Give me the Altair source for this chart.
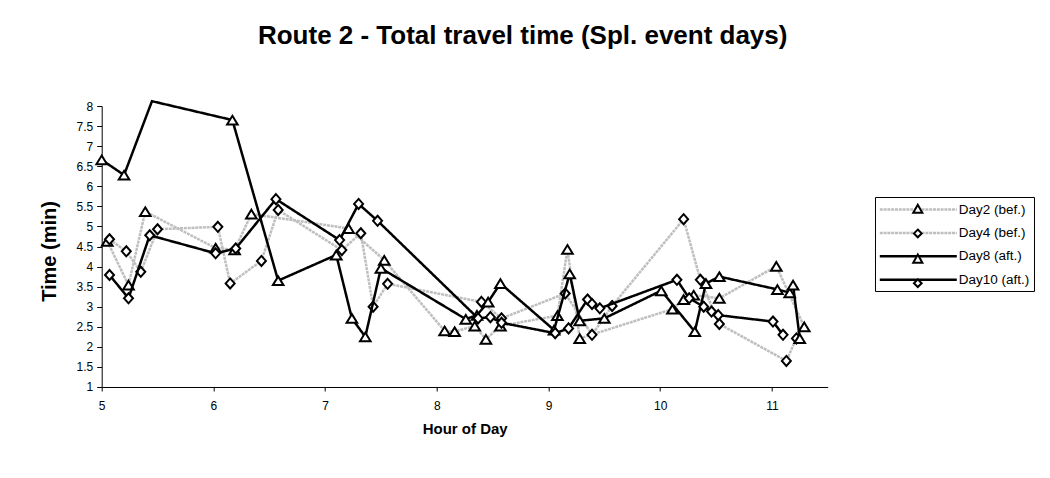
import altair as alt
import pandas as pd

# ---------------- data ----------------
SERIES = ["Day2 (bef.)", "Day4 (bef.)", "Day8 (aft.)", "Day10 (aft.)"]

day2_hour = [5.05, 5.24, 5.39, 6.02, 6.19, 6.34, 7.21, 7.53, 8.07, 8.16, 8.34, 8.44,
             8.57, 9.08, 9.17, 9.28, 10.11, 10.21, 10.30, 10.53, 11.04, 11.29]
day2_time = [4.63, 3.54, 5.37, 4.46, 4.42, 5.31, 4.95, 4.16, 2.40, 2.38, 2.52, 2.19,
             2.52, 2.78, 4.43, 2.21, 2.94, 3.18, 3.29, 3.21, 4.01, 2.50]

day4_hour = [5.07, 5.22, 5.35, 5.50, 6.04, 6.15, 6.43, 6.58, 7.15, 7.32, 7.43, 7.56,
             8.40, 8.58, 9.15, 9.39, 9.57, 10.21, 10.36, 10.53, 11.13, 11.22]
day4_time = [4.68, 4.38, 3.87, 4.93, 4.99, 3.58, 4.14, 5.41, 4.41, 4.83, 3.00, 3.57,
             3.12, 2.71, 3.33, 2.30, 3.02, 5.18, 3.67, 2.57, 1.65, 2.21]

day8_hour = [5.00, 5.20, 5.45, 6.17, 6.58, 7.10, 7.24, 7.36, 7.50, 8.26, 8.36, 8.46,
             8.57, 9.05, 9.19, 9.28, 9.50, 10.01, 10.31, 10.41, 10.53, 11.05, 11.16,
             11.19, 11.25]
day8_time = [6.66, 6.28, 8.12, 7.65, 3.65, 4.29, 2.71, 2.25, 3.96, 2.69, 2.79, 3.12,
             3.58, 2.42, 3.82, 2.65, 2.71, 3.40, 2.38, 3.58, 3.75, 3.43, 3.35,
             3.54, 2.21]

day10_hour = [5.07, 5.24, 5.43, 6.02, 6.20, 6.56, 7.13, 7.30, 7.47, 8.37, 8.48, 8.58,
              9.06, 9.18, 9.35, 9.39, 9.46, 10.15, 10.26, 10.39, 10.46, 10.52, 11.01,
              11.10]
day10_time = [3.79, 3.21, 4.78, 4.33, 4.45, 5.68, 4.66, 5.56, 5.14, 2.71, 2.74, 2.60,
              2.34, 2.46, 3.18, 3.07, 2.96, 3.67, 3.21, 3.00, 2.88, 2.79, 2.63,
              2.30]

x_ticks = [5, 6, 7, 8, 9, 10, 11]
y_ticks = [1, 1.5, 2, 2.5, 3, 3.5, 4, 4.5, 5, 5.5, 6, 6.5, 7, 7.5, 8]

TITLE = "Route 2 - Total travel time (Spl. event days)"
X_TITLE = "Hour of Day"
Y_TITLE = "Time (min)"

# ---------------- table ----------------
rows = []
for name, hours, times in [
    (SERIES[0], day2_hour, day2_time),
    (SERIES[1], day4_hour, day4_time),
    (SERIES[2], day8_hour, day8_time),
    (SERIES[3], day10_hour, day10_time),
]:
    for i, (h, t) in enumerate(zip(hours, times)):
        rows.append({"series": name, "hour": h, "time": t, "idx": i})
df = pd.DataFrame(rows)

# ---------------- styles ----------------
FONT = "Liberation Sans"
GRAY = "#bfbfbf"
BLACK = "#000000"
TRI = "M0,-0.8L1,0.85L-1,0.85Z"
DIA = "M0,-0.95L0.85,0L0,0.95L-0.85,0Z"
TRI_LEG = "M0,-0.6L0.65,0.55L-0.65,0.55Z"
DIA_LEG = "M0,-0.55L0.55,0L0,0.55L-0.55,0Z"
MARKERS = {SERIES[0]: TRI, SERIES[1]: DIA, SERIES[2]: TRI, SERIES[3]: DIA}

PLOT_W = 726
PLOT_H = 281

x_enc = alt.X("hour:Q",
              scale=alt.Scale(domain=[5, 11.5], nice=False, zero=False),
              axis=alt.Axis(values=x_ticks, title=X_TITLE, grid=False,
                            domainColor=BLACK, tickColor=BLACK, tickSize=4,
                            labelFont=FONT, labelFontSize=12, labelColor=BLACK,
                            labelPadding=10, labelFlush=False,
                            titleFont=FONT, titleFontSize=15, titleFontWeight="bold",
                            titleColor=BLACK, titleY=35, titleBaseline="top"))
y_enc = alt.Y("time:Q",
              scale=alt.Scale(domain=[1, 8], nice=False, zero=False),
              axis=alt.Axis(values=y_ticks, format="~g", title=Y_TITLE, grid=False,
                            domainColor=BLACK, tickColor=BLACK, tickSize=5,
                            labelFont=FONT, labelFontSize=12, labelColor=BLACK,
                            labelPadding=4, labelFlush=False,
                            titleFont=FONT, titleFontSize=20, titleFontWeight="bold",
                            titleColor=BLACK, titleX=-51.7, titleY=145,
                            titleAngle=-90, titleBaseline="middle"))

legend_common = dict(title=None, orient="none", legendX=773.3, legendY=91,
                     symbolSize=196, padding=4, rowPadding=8.4,
                     symbolOffset=30.8, labelOffset=32,
                     labelFont=FONT, labelFontSize=13.5)

legendA = alt.Legend(symbolType="M-5.5,0H5.5", symbolStrokeWidth=2.5,
                     labelColor=BLACK, strokeColor=BLACK, fillColor="white",
                     **legend_common)
legendB = alt.Legend(symbolStrokeWidth=2, labelOpacity=0, **legend_common)

stroke_enc = alt.Stroke("series:N",
                        scale=alt.Scale(domain=SERIES, range=[GRAY, GRAY, BLACK, BLACK]),
                        legend=legendA)
dash_enc = alt.StrokeDash("series:N",
                          scale=alt.Scale(domain=SERIES, range=[[3, 0.8], [3, 0.8], [1, 0], [1, 0]]),
                          legend=legendA)

base = alt.Chart(df)
layers = []
for s in SERIES:
    line = base.transform_filter(alt.datum.series == s).mark_line(
        strokeWidth=2.5, strokeJoin="miter"
    ).encode(x=x_enc, y=y_enc, stroke=stroke_enc, strokeDash=dash_enc,
             order="idx:Q")
    pts = base.transform_filter(alt.datum.series == s).transform_filter(
        alt.datum.time <= 8
    ).mark_point(shape=MARKERS[s], size=112, filled=True, fill="white",
                 stroke=BLACK, strokeWidth=2, opacity=1).encode(x=x_enc, y=y_enc)
    layers += [line, pts]

# legend carrier for the markers (no visible marks, legend from explicit domain)
SERIES_B = [s + " " for s in SERIES]
marker_legend = base.transform_calculate(mk="datum.series + ' '").transform_filter(
    "false"
).mark_point(filled=False, fill="white", stroke=BLACK, strokeWidth=2,
             opacity=1).encode(
    shape=alt.Shape("mk:N",
                    scale=alt.Scale(domain=SERIES_B, range=[TRI_LEG, DIA_LEG, TRI_LEG, DIA_LEG]),
                    legend=legendB)
)
layers.append(marker_legend)

chart = alt.layer(*layers).properties(
    width=PLOT_W, height=PLOT_H,
    title=alt.TitleParams(TITLE, font=FONT, fontSize=26, fontWeight="bold",
                          color=BLACK, anchor="middle", frame="group", dx=58, offset=47),
    autosize=alt.AutoSizeParams(type="none"),
    padding={"left": 93.7, "top": 98, "right": 212, "bottom": 80},
    background="white",
).configure_view(stroke="transparent", strokeWidth=0)

chart.save("out.html", embed_options={"renderer": "svg", "actions": False})
